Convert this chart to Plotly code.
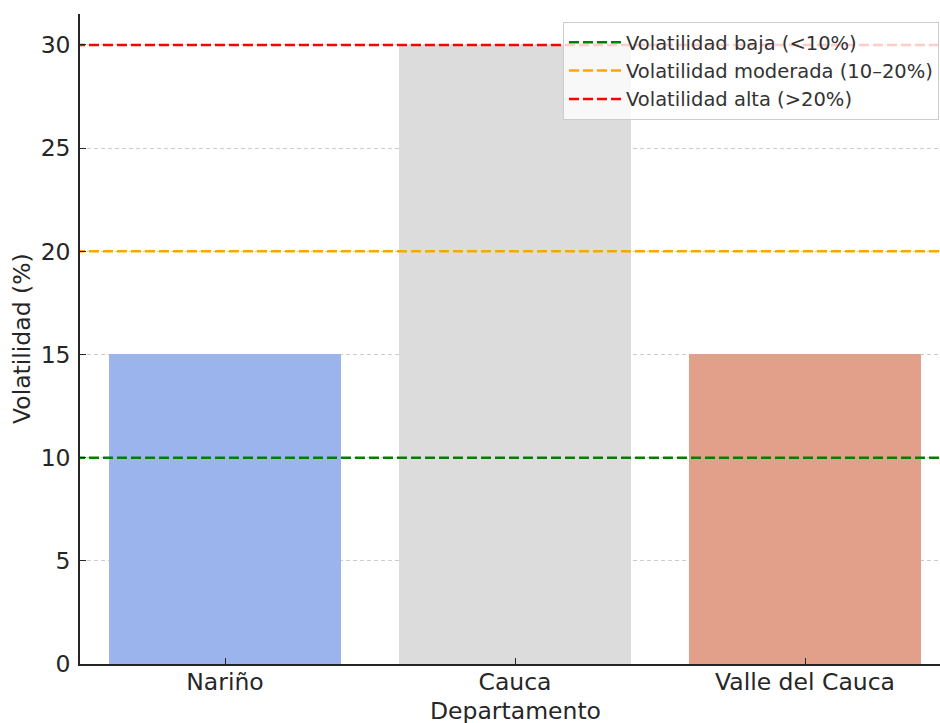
import plotly.graph_objects as go

# Departments and their price volatility (%)
departamentos = ["Nariño", "Cauca", "Valle del Cauca"]
volatilidad = [15, 30, 15]
colores_barras = ["#9bb4ee", "#dcdcdc", "#e2a08a"]

# Reference thresholds
umbral_nombres = ["Volatilidad baja (<10%)", "Volatilidad moderada (10–20%)", "Volatilidad alta (>20%)"]
umbral_valores = [10, 20, 30]
umbral_colores = ["green", "orange", "red"]

W, H = 940, 723
ML, MR, MT, MB = 80, 0, 14, 59
plot_w = W - ML - MR
plot_h = H - MT - MB

x_pos = list(range(len(departamentos)))
x_range = [-0.5, 2.5 - 10 / 290]

fig = go.Figure()

fig.add_trace(go.Bar(
    x=x_pos, y=volatilidad, width=0.8,
    marker=dict(color=colores_barras, line=dict(width=0)),
    showlegend=False, hoverinfo="skip",
))

for nombre, valor, color in zip(umbral_nombres, umbral_valores, umbral_colores):
    fig.add_trace(go.Scatter(
        x=[-1, 3], y=[valor, valor], mode="lines", name=nombre,
        line=dict(color=color, width=2.5, dash="10px,4px"),
        hoverinfo="skip",
    ))

FONT = "DejaVu Sans"
FS = 23.5

fig.update_layout(
    width=W, height=H,
    margin=dict(l=ML, r=MR, t=MT, b=MB, pad=0),
    paper_bgcolor="white", plot_bgcolor="white",
    font=dict(family=FONT, size=FS, color="#262626"),
    bargap=0,
    legend=dict(
        x=(563 - ML) / plot_w, y=(H - MB - 22) / plot_h,
        xanchor="left", yanchor="top",
        bgcolor="rgba(255,255,255,0.8)", bordercolor="#cccccc", borderwidth=1,
        font=dict(family=FONT, size=19.5, color="#333333"),
        itemwidth=52,
    ),
    xaxis=dict(
        range=x_range, tickvals=x_pos, ticktext=departamentos,
        showgrid=False, zeroline=False,
        showline=True, linecolor="#262626", linewidth=1.5,
        ticks="inside", ticklen=6, tickwidth=1, tickcolor="#262626",
        tickfont=dict(size=FS), ticklabelstandoff=-4,
    ),
    yaxis=dict(
        range=[0, 31.5], tickvals=[0, 5, 10, 15, 20, 25, 30],
        showgrid=True, gridcolor="#cccccc", gridwidth=1, griddash="4px,3px",
        zeroline=False,
        showline=True, linecolor="#262626", linewidth=1.5,
        ticks="inside", ticklen=6, tickwidth=1, tickcolor="#262626",
        tickfont=dict(size=FS), ticklabelstandoff=3,
    ),
    annotations=[
        dict(text="Departamento", xref="paper", yref="paper",
             x=(515 - ML) / plot_w, y=-(711 - (H - MB)) / plot_h,
             xanchor="center", yanchor="middle", showarrow=False,
             font=dict(size=FS, color="#262626")),
        dict(text="Volatilidad (%)", xref="paper", yref="paper",
             x=(22 - ML) / plot_w, y=(H - MB - 339) / plot_h,
             xanchor="center", yanchor="middle", textangle=-90, showarrow=False,
             font=dict(size=FS, color="#262626")),
    ],
)

fig.write_html("out.html")
